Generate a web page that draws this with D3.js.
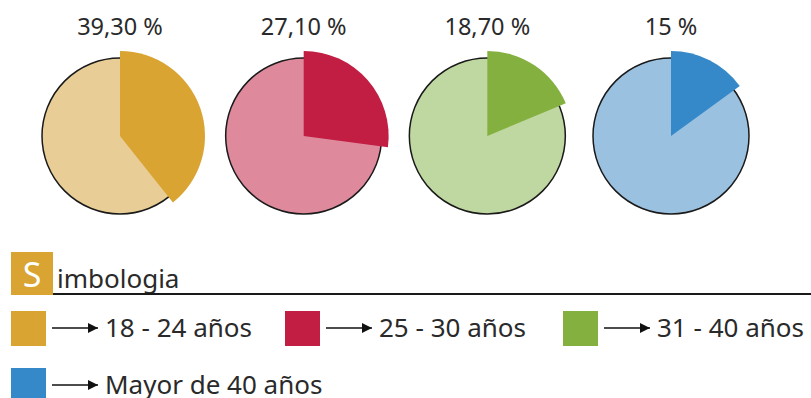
<!DOCTYPE html>
<html>
<head>
<meta charset="utf-8">
<script src="https://cdn.jsdelivr.net/npm/d3@7"></script>
<style>
  html, body { margin: 0; padding: 0; background: #fff; }
  svg { display: block; font-family: "Noto Sans", "Open Sans", sans-serif; }
</style>
</head>
<body>
<svg id="chart" width="811" height="398"></svg>
<script>
// Share of each age group (percent)
const groups = ["18 - 24 años", "25 - 30 años", "31 - 40 años", "Mayor de 40 años"];
const shares = [39.3, 27.1, 18.7, 15];
const shareLabels = ["39,30 %", "27,10 %", "18,70 %", "15 %"];
const strongColors = ["#D9A431", "#C21D42", "#84B040", "#3689C9"];
const paleColors = ["#E8CD96", "#DE8A9C", "#BFD7A0", "#9BC1E1"];
const legendTitle = "imbologia";

const svg = d3.select("#chart");

// Pies laid out across the top row
const x = d3.scalePoint().domain(groups).range([120, 671]);
const cy = 136;
const rBase = 78;
const rSlice = 85;
const angle = d3.scaleLinear().domain([0, 100]).range([0, 2 * Math.PI]);

const pies = svg.selectAll("g.pie")
  .data(groups)
  .join("g")
  .attr("class", "pie")
  .attr("transform", d => `translate(${x(d)},${cy})`);

pies.append("circle")
  .attr("r", rBase)
  .attr("fill", (d, i) => paleColors[i])
  .attr("stroke", "#1a1a1a")
  .attr("stroke-width", 1.5);

const arc = d3.arc().innerRadius(0).outerRadius(rSlice).startAngle(0);
pies.append("path")
  .attr("d", (d, i) => arc({ endAngle: angle(shares[i]) }))
  .attr("fill", (d, i) => strongColors[i]);

pies.append("text")
  .attr("y", -cy + 35)
  .attr("text-anchor", "middle")
  .attr("font-size", 23.5)
  .attr("fill", "#2a2a2a")
  .text((d, i) => shareLabels[i]);

// Legend header: boxed initial, title and rule
const header = svg.append("g");
header.append("rect")
  .attr("x", 11).attr("y", 252).attr("width", 42).attr("height", 43)
  .attr("fill", strongColors[0]);
header.append("text")
  .attr("x", 32).attr("y", 287)
  .attr("text-anchor", "middle")
  .attr("font-size", 34)
  .attr("fill", "#fff")
  .text("S");
header.append("text")
  .attr("x", 57).attr("y", 288)
  .attr("font-size", 26)
  .attr("fill", "#2a2a2a")
  .text(legendTitle);
header.append("line")
  .attr("x1", 53).attr("x2", 811)
  .attr("y1", 294).attr("y2", 294)
  .attr("stroke", "#1a1a1a")
  .attr("stroke-width", 2);

// Legend entries
svg.append("defs").append("marker")
  .attr("id", "head")
  .attr("viewBox", "0 0 10 10")
  .attr("refX", 10).attr("refY", 5)
  .attr("markerWidth", 11).attr("markerHeight", 10)
  .attr("markerUnits", "userSpaceOnUse")
  .attr("orient", "auto")
  .append("path")
  .attr("d", "M0,0L10,5L0,10Z")
  .attr("fill", "#111");

const legendX = [11, 285, 563, 11];
const legendY = [311, 311, 311, 368];

const items = svg.selectAll("g.item")
  .data(groups)
  .join("g")
  .attr("class", "item")
  .attr("transform", (d, i) => `translate(${legendX[i]},${legendY[i]})`);

items.append("rect")
  .attr("width", 35).attr("height", 35)
  .attr("fill", (d, i) => strongColors[i]);

items.append("line")
  .attr("x1", 41).attr("x2", 87)
  .attr("y1", 17).attr("y2", 17)
  .attr("stroke", "#111")
  .attr("stroke-width", 1.5)
  .attr("marker-end", "url(#head)");

items.append("text")
  .attr("x", 94).attr("y", 26)
  .attr("font-size", 26)
  .attr("fill", "#2a2a2a")
  .text(d => d);
</script>
</body>
</html>
